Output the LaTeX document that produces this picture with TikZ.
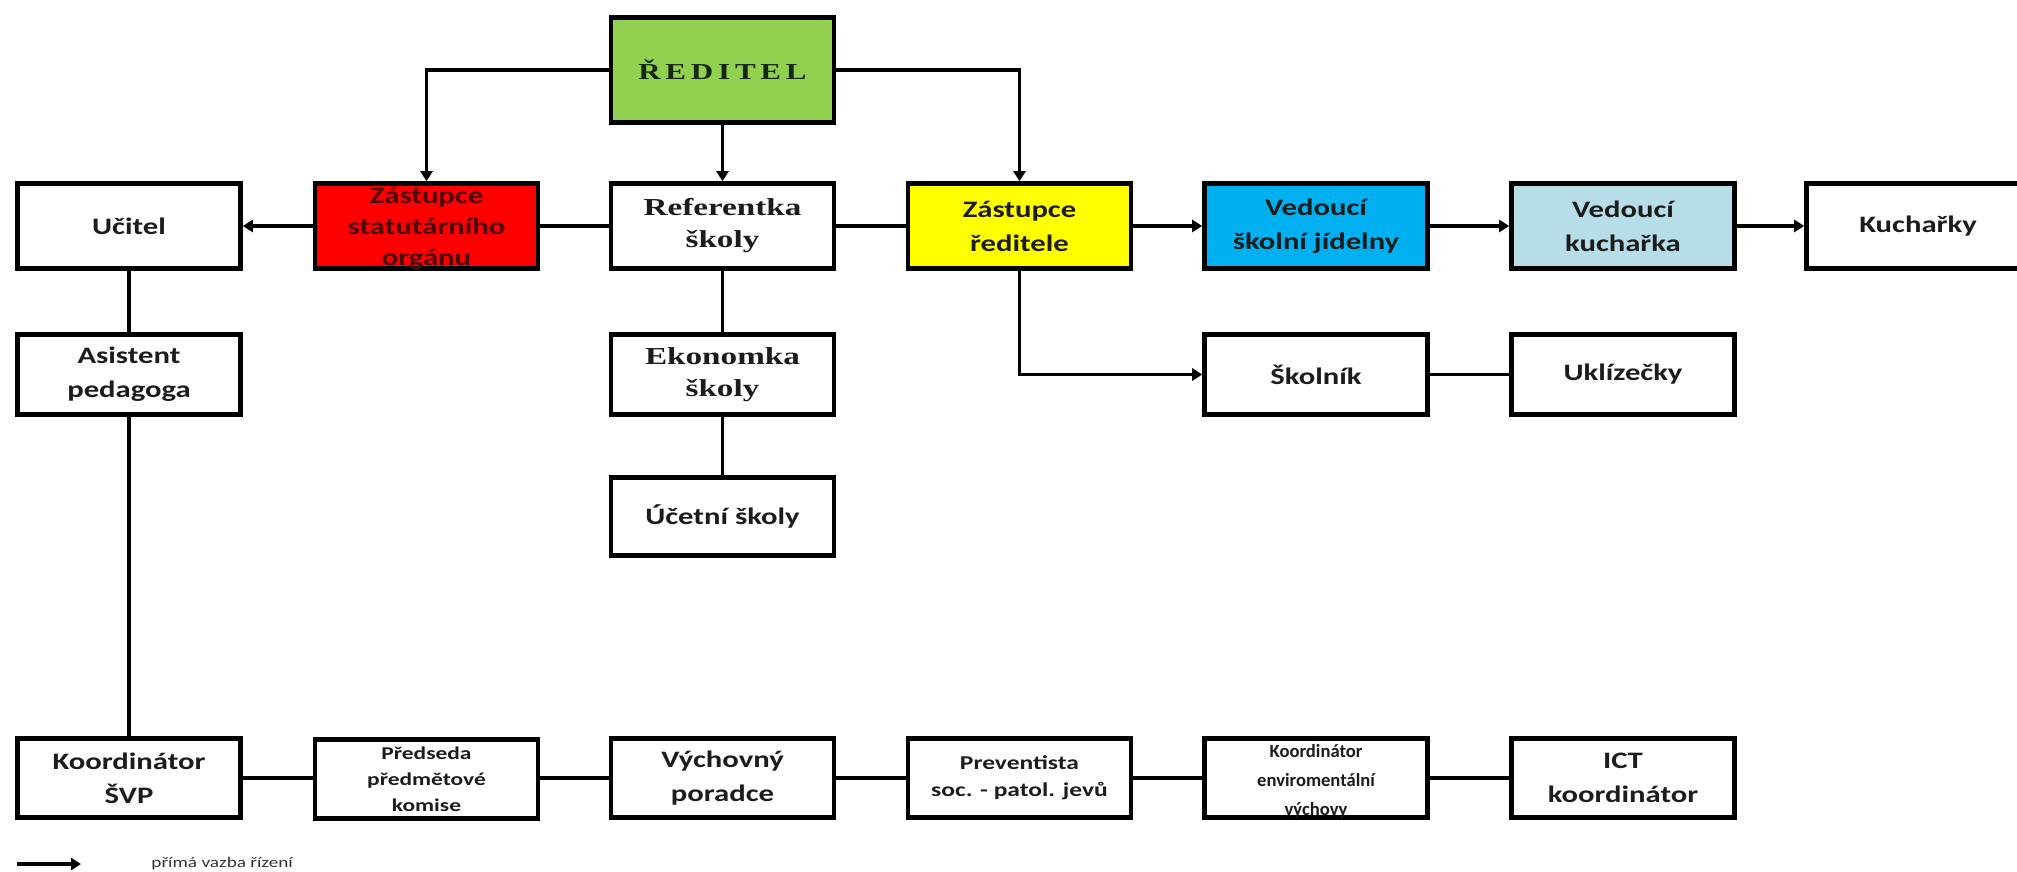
\documentclass[tikz,border=0pt]{standalone}
\usepackage{fontspec}
\usetikzlibrary{arrows.meta}
\newfontfamily\calfont[FakeStretch=1.3]{Carlito}
\newfontfamily\calnarrow[FakeStretch=1.0]{Carlito}
\newfontfamily\serfont[FakeStretch=1.36]{Liberation Serif}
\definecolor{cgreen}{HTML}{92D050}
\definecolor{cred}{HTML}{FF0000}
\definecolor{cyellow}{HTML}{FFFF00}
\definecolor{cblue}{HTML}{00B0F0}
\definecolor{clblue}{HTML}{B7DDE8}
\definecolor{ink}{HTML}{1C1C1C}
\definecolor{redink}{HTML}{4A0808}
\definecolor{greenink}{HTML}{142814}
\definecolor{legink}{HTML}{333333}
\begin{document}
\begin{tikzpicture}[x=0.5pt,y=-0.5pt,
  box/.style={draw=black, line width=2.3pt, fill=white, inner sep=0pt, align=center,
    text=ink, minimum width=111.5pt, minimum height=42.5pt,
    font=\calfont\bfseries\fontsize{11.8}{17}\selectfont},
  rowtwo/.style={box, minimum height=40pt},
  rowlow/.style={box, minimum height=39.5pt},
  serbox/.style={font=\serfont\bfseries\fontsize{12.2}{16}\selectfont},
  smalltext/.style={font=\calfont\bfseries\fontsize{9}{13}\selectfont},
  midtext/.style={font=\calfont\bfseries\fontsize{9.8}{13.5}\selectfont},
  overtext/.style={inner sep=0pt, align=center},
  conn/.style={line width=1.8pt, draw=black},
  arr/.style={conn, -{Triangle[length=5pt,width=6pt]}}
]
\useasboundingbox (0,0) rectangle (2017,872);

% top
\node[box, fill=cgreen, minimum height=52.5pt, text=greenink,
  font=\serfont\bfseries\fontsize{11.4}{13}\selectfont] (dir) at (722.5,70)
  {Ř\kern2.4pt E\kern2.4pt D\kern2.4pt I\kern2.4pt T\kern2.4pt E\kern2.4pt L};

% row 1
\node[box] (ucitel) at (129,226) {Učitel};
\node[box, fill=cred] (zso) at (426.5,226) {};
\node[overtext, text=redink, font=\calfont\bfseries\fontsize{11.8}{15.5}\selectfont] (zsotxt) at (426.5,228)
  {Zástupce\\statutárního\\orgánu};
\node[box, serbox] (ref) at (722.5,226) {Referentka\\školy};
\node[box, fill=cyellow] (zr) at (1019.5,226) {Zástupce\\ředitele};
\node[box, fill=cblue] (vsj) at (1316,226) {Vedoucí\\školní jídelny};
\node[box, fill=clblue] (vk) at (1623,226) {Vedoucí\\kuchařka};
\node[box] (kuch) at (1918,226) {Kuchařky};

% row 2
\node[rowtwo] (asist) at (129,374.5) {Asistent\\pedagoga};
\node[rowtwo, serbox] (ekon) at (722.5,374.5) {Ekonomka\\školy};
\node[rowtwo] (skol) at (1316,374.5) {Školník};
\node[rowtwo] (ukl) at (1623,374.5) {Uklízečky};
\node[box, minimum height=39pt] (ucet) at (722.5,516.5) {Účetní školy};

% bottom row
\node[rowlow] (ksvp) at (129,778) {Koordinátor\\ŠVP};
\node[rowlow, smalltext] (pred) at (426.5,779) {Předseda\\předmětové\\komise};
\node[rowlow] (vych) at (722.5,778) {Výchovný\\poradce};
\node[rowlow, midtext] (prev) at (1019.5,778) {Preventista\\soc. - patol. jevů};
\node[rowlow] (kenv) at (1316,778) {};
\node[overtext, text=ink, font=\calnarrow\bfseries\fontsize{9.3}{14.5}\selectfont] (kenvtxt) at (1316,781)
  {Koordinátor\\enviromentální\\výchovy};
\node[rowlow] (ict) at (1623,778) {ICT\\koordinátor};

% connectors from director
\draw[arr] (dir.west) -| (zso.north);
\draw[arr] (dir.south) -- (ref.north);
\draw[arr] (dir.east) -| (zr.north);

% row 1 connectors
\draw[arr] (zso.west) -- (ucitel.east);
\draw[conn] (zso.east) -- (ref.west);
\draw[conn] (ref.east) -- (zr.west);
\draw[arr] (zr.east) -- (vsj.west);
\draw[arr] (vsj.east) -- (vk.west);
\draw[arr] (vk.east) -- (kuch.west);
\draw[arr] (zr.south) |- (skol.west);
\draw[conn] (skol.east) -- (ukl.west);

% verticals
\draw[conn] (ucitel.south) -- (asist.north);
\draw[conn] (asist.south) -- (ksvp.north);
\draw[conn] (ref.south) -- (ekon.north);
\draw[conn] (ekon.south) -- (ucet.north);

% bottom row connectors
\draw[conn] (ksvp.east) -- (pred.west |- ksvp.east);
\draw[conn] (pred.east |- vych.west) -- (vych.west);
\draw[conn] (vych.east) -- (prev.west);
\draw[conn] (prev.east) -- (kenv.west);
\draw[conn] (kenv.east) -- (ict.west);

% legend
\coordinate (lgA) at (17,864);
\coordinate (lgB) at (81,864);
\draw[arr] (lgA) -- (lgB);
\node[anchor=west, inner sep=0pt, text=legink, font=\calfont\fontsize{7.4}{9}\selectfont] (legtxt) at (151,864) {přímá vazba řízení};
\end{tikzpicture}
\end{document}
